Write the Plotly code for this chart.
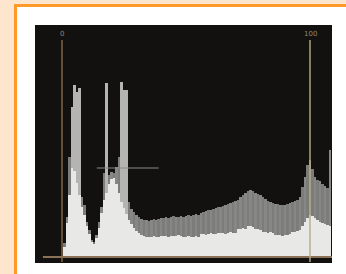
import plotly.graph_objects as go

# ---- data ----
bins = list(range(1, 109))
white_vals = [10, 34, 62, 89, 86, 74, 62, 50, 42, 31, 23, 15, 13, 19, 29, 44, 57, 64, 73, 78,
              79, 73, 64, 55, 49, 43, 37, 33, 29, 26, 24, 22, 21, 20, 20, 20, 21, 20, 20, 21,
              21, 21, 20, 21, 21, 21, 22, 21, 20, 20, 21, 20, 20, 21, 20, 23, 23, 22, 23, 24,
              23, 23, 24, 24, 24, 23, 24, 25, 24, 24, 28, 28, 29, 28, 31, 31, 30, 28, 28, 27,
              25, 25, 24, 25, 24, 22, 22, 22, 21, 22, 22, 23, 25, 25, 26, 27, 31, 35, 39, 42,
              41, 39, 37, 35, 34, 33, 32, 31]
grey_vals = [14, 40, 100, 150, 172, 165, 169, 60, 52, 35, 27, 17, 15, 22, 35, 50, 84, 174, 82, 85,
             84, 90, 100, 175, 167, 167, 55, 48, 45, 42, 40, 38, 37, 37, 36, 37, 38, 37, 38, 39,
             39, 40, 39, 40, 41, 40, 40, 41, 40, 41, 42, 41, 42, 43, 42, 44, 45, 46, 47, 47,
             48, 49, 50, 50, 51, 52, 53, 54, 55, 56, 57, 60, 62, 64, 66, 67, 66, 64, 63, 62,
             60, 58, 56, 55, 54, 53, 53, 52, 52, 52, 53, 54, 55, 56, 57, 60, 70, 80, 92, 97,
             88, 80, 77, 76, 73, 71, 69, 107]
marker_positions = [0, 100]
marker_labels = ["0", "100"]
guide_span = [14, 39]
guide_level = 89

W, H = 346, 274
L, R, T, B = 35, 14, 25, 11
pw, ph = W - L - R, H - T - B

def px(x):
    return (x - L) / pw

def py(y):
    return (H - B - y) / ph

# tall isolated spikes are lighter than the ordinary grey band
grey_colors = ["#b4b4b2" if g > 120 else ("#878785" if i % 2 else "#7c7c7a")
               for i, g in enumerate(grey_vals)]

fig = go.Figure()

fig.add_trace(go.Bar(x=bins, y=grey_vals, width=1.0, marker=dict(color=grey_colors, line=dict(width=0)),
                     hoverinfo="skip"))
fig.add_trace(go.Bar(x=bins, y=white_vals, width=1.0, marker=dict(color="#e8e8e6", line=dict(width=0)),
                     hoverinfo="skip"))

# baseline
fig.add_trace(go.Scatter(x=[-7.7, 110], y=[0, 0], mode="lines",
                         line=dict(color="#8a7258", width=2), hoverinfo="skip"))
# guide line
fig.add_trace(go.Scatter(x=guide_span, y=[guide_level, guide_level], mode="lines",
                         line=dict(color="#8c8a80", width=1.2), hoverinfo="skip"))
# vertical markers
colors = ["#8a6a4a", "#b8ab8a"]
for xpos, lab, c in zip(marker_positions, marker_labels, colors):
    fig.add_trace(go.Scatter(x=[xpos, xpos], y=[-5, 217], mode="lines",
                             line=dict(color=c, width=1.4), hoverinfo="skip"))
    fig.add_annotation(x=xpos, y=223, text=lab, showarrow=False,
                       font=dict(size=7, color="#8f877a", family="DejaVu Sans"))

shapes = [
    dict(type="rect", xref="paper", yref="paper", x0=px(14), x1=px(360), y0=py(4), y1=py(290),
         fillcolor="#fd9a2a", line=dict(width=0), layer="below"),
    dict(type="rect", xref="paper", yref="paper", x0=px(17), x1=px(360), y0=py(7), y1=py(290),
         fillcolor="#ffffff", line=dict(width=0), layer="below"),
    dict(type="rect", xref="paper", yref="paper", x0=0, x1=1, y0=0, y1=1,
         fillcolor="#13110f", line=dict(width=0), layer="below"),
]

fig.update_layout(
    width=W, height=H,
    margin=dict(l=L, r=R, t=T, b=B),
    paper_bgcolor="#fde6cd",
    plot_bgcolor="rgba(0,0,0,0)",
    barmode="overlay",
    bargap=0,
    showlegend=False,
    shapes=shapes,
    xaxis=dict(range=[-10.89, 108.87], visible=False, fixedrange=True),
    yaxis=dict(range=[-6, 232], visible=False, fixedrange=True),
)

fig.write_html("out.html", config={"displayModeBar": False},
               post_script="document.body.style.margin='0';document.body.style.overflow='hidden';")
